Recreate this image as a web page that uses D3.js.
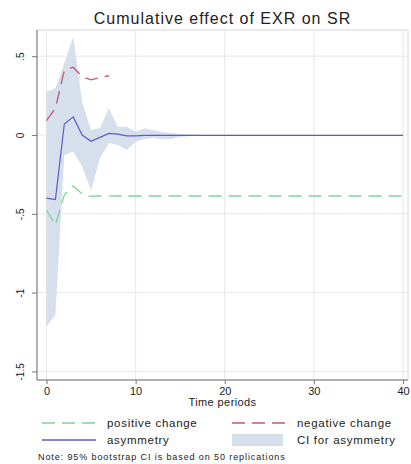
<!DOCTYPE html>
<html>
<head>
<meta charset="utf-8">
<script src="https://cdn.jsdelivr.net/npm/d3@7"></script>
<style>
  body { margin: 0; background: #fff; }
  svg text { font-family: "Liberation Sans", Arial, sans-serif; fill: #222; }
</style>
</head>
<body>
<div id="chart"></div>
<script>
// periods 0..40
var periods = d3.range(0, 41);

// cumulative multipliers
var positive = [-0.476, -0.571, -0.38, -0.324, -0.374, -0.39, -0.387, -0.386, -0.387, -0.387,
  -0.387, -0.387, -0.387, -0.387, -0.387, -0.387, -0.387, -0.387, -0.387, -0.387,
  -0.387, -0.387, -0.387, -0.387, -0.387, -0.387, -0.387, -0.387, -0.387, -0.387,
  -0.387, -0.387, -0.387, -0.387, -0.387, -0.387, -0.387, -0.387, -0.387, -0.387, -0.387];
var negative = [0.091, 0.17, 0.41, 0.43, 0.37, 0.35, 0.364, 0.376];
var asymmetry = [-0.40, -0.41, 0.07, 0.115, 0.0, -0.04, -0.015, 0.01, 0.005, -0.005,
  -0.005, -0.003, -0.002, -0.002, -0.002, -0.002, -0.002, -0.002, -0.002, -0.002,
  -0.002, -0.002, -0.002, -0.002, -0.002, -0.002, -0.002, -0.002, -0.002, -0.002,
  -0.002, -0.002, -0.002, -0.002, -0.002, -0.002, -0.002, -0.002, -0.002, -0.002, -0.002];
var ciUpper = [0.275, 0.296, 0.455, 0.624, 0.21, 0.03, 0.045, 0.17, 0.053, 0.053,
  0.02, 0.043, 0.03, 0.019, 0.013, 0.006, 0.003, 0.001, 0.0, 0.0,
  0.0, 0.0, 0.0, 0.0, 0.0, 0.0, 0.0, 0.0, 0.0, 0.0,
  0.0, 0.0, 0.0, 0.0, 0.0, 0.0, 0.0, 0.0, 0.0, 0.0, 0.0];
var ciLower = [-1.216, -1.142, -0.127, -0.106, -0.2, -0.35, -0.146, -0.05, -0.063, -0.095,
  -0.043, -0.025, -0.019, -0.027, -0.025, -0.013, -0.006, -0.003, -0.003, -0.003,
  -0.003, -0.003, -0.003, -0.003, -0.003, -0.003, -0.003, -0.003, -0.003, -0.003,
  -0.003, -0.003, -0.003, -0.003, -0.003, -0.003, -0.003, -0.003, -0.003, -0.003, -0.003];

var xTicks = [0, 10, 20, 30, 40];
var yTicks = [0.5, 0, -0.5, -1, -1.5];
var yTickLabels = [".5", "0", "-.5", "-1", "-1.5"];

var w = 411, h = 464;
var plot = {left: 37, right: 408, top: 30, bottom: 380};

var svg = d3.select("#chart").append("svg")
  .attr("width", w)
  .attr("height", h);

var x = d3.scaleLinear().domain([0, 40]).range([46.5, 403]);
var y = d3.scaleLinear().domain([0.5, -1.5]).range([56.2, 371.4]);

// title
svg.append("text")
  .attr("x", (plot.left + plot.right) / 2)
  .attr("y", 24)
  .attr("text-anchor", "middle")
  .style("font-size", "16px")
  .style("letter-spacing", "1px")
  .text("Cumulative effect of EXR on SR");

// plot frame
svg.append("rect")
  .attr("x", plot.left).attr("y", plot.top)
  .attr("width", plot.right - plot.left)
  .attr("height", plot.bottom - plot.top)
  .attr("fill", "#fff")
  .attr("stroke", "#d8d8d8");

// grid lines
svg.append("g").selectAll("line").data(xTicks).enter().append("line")
  .attr("x1", function(d){ return x(d); }).attr("x2", function(d){ return x(d); })
  .attr("y1", plot.top).attr("y2", plot.bottom)
  .attr("stroke", "#e6e6e6");
svg.append("g").selectAll("line").data(yTicks).enter().append("line")
  .attr("x1", plot.left).attr("x2", plot.right)
  .attr("y1", function(d){ return y(d); }).attr("y2", function(d){ return y(d); })
  .attr("stroke", "#e6e6e6");

// CI band
var band = d3.area()
  .x(function(d, i){ return x(periods[i]); })
  .y0(function(d, i){ return y(ciLower[i]); })
  .y1(function(d, i){ return y(ciUpper[i]); });
svg.append("path")
  .attr("d", band(periods))
  .attr("fill", "#d6dfec");

var line = d3.line()
  .x(function(d){ return x(d[0]); })
  .y(function(d){ return y(d[1]); });

function pairs(vals) {
  return vals.map(function(v, i){ return [periods[i], v]; });
}

svg.append("path")
  .attr("d", line(pairs(positive)))
  .attr("fill", "none")
  .attr("stroke", "#7fd39a")
  .attr("stroke-width", 1.3)
  .attr("stroke-dasharray", "13,7");

svg.append("path")
  .attr("d", line(pairs(negative)))
  .attr("fill", "none")
  .attr("stroke", "#c8557a")
  .attr("stroke-width", 1.3)
  .attr("stroke-dasharray", "13,7");

svg.append("path")
  .attr("d", line(pairs(asymmetry)))
  .attr("fill", "none")
  .attr("stroke", "#5b5bc8")
  .attr("stroke-width", 1.2);

// axes
var yAxis = d3.axisLeft(y).tickValues(yTicks).tickSize(5).tickFormat(function(d, i){ return yTickLabels[i]; });
var gy = svg.append("g")
  .attr("transform", "translate(" + plot.left + ",0)")
  .call(yAxis);
gy.select(".domain").attr("d", "M0," + plot.top + "V" + plot.bottom).attr("stroke", "#777");
gy.selectAll(".tick line").attr("stroke", "#777");
gy.selectAll(".tick text")
  .attr("x", 0).attr("y", 0).attr("dy", 0)
  .attr("text-anchor", "middle")
  .attr("transform", "translate(-13,0) rotate(-90)")
  .style("font-size", "10px");

var xAxis = d3.axisBottom(x).tickValues(xTicks).tickSize(4).tickFormat(d3.format("d"));
var gx = svg.append("g")
  .attr("transform", "translate(0," + plot.bottom + ")")
  .call(xAxis);
gx.select(".domain").attr("d", "M" + plot.left + ",0H" + plot.right).attr("stroke", "#777");
gx.selectAll(".tick line").attr("stroke", "#777");
gx.selectAll(".tick text").attr("y", 7).style("font-size", "11px");

svg.append("text")
  .attr("x", (plot.left + plot.right) / 2)
  .attr("y", 406)
  .attr("text-anchor", "middle")
  .style("font-size", "11px")
  .style("letter-spacing", "0.4px")
  .text("Time periods");

// legend
var legend = [
  {label: "positive change", color: "#7fd39a", dash: "13,7", x: 42, y: 423, type: "line"},
  {label: "negative change", color: "#c8557a", dash: "13,7", x: 232, y: 423, type: "line"},
  {label: "asymmetry", color: "#5b5bc8", dash: null, x: 42, y: 440, type: "line"},
  {label: "CI for asymmetry", color: "#d6dfec", dash: null, x: 232, y: 440, type: "box"}
];
var lg = svg.append("g").selectAll("g").data(legend).enter().append("g");
lg.each(function(d){
  var g = d3.select(this);
  if (d.type == "line") {
    g.append("line")
      .attr("x1", d.x).attr("x2", d.x + 54)
      .attr("y1", d.y).attr("y2", d.y)
      .attr("stroke", d.color)
      .attr("stroke-width", 1.3)
      .attr("stroke-dasharray", d.dash);
  } else {
    g.append("rect")
      .attr("x", d.x).attr("y", d.y - 6)
      .attr("width", 51).attr("height", 12)
      .attr("fill", d.color);
  }
  g.append("text")
    .attr("x", d.x + 65).attr("y", d.y + 4)
    .style("font-size", "11.5px")
    .style("letter-spacing", "0.7px")
    .text(d.label);
});

svg.append("text")
  .attr("x", 38)
  .attr("y", 460)
  .style("font-size", "9px")
  .style("letter-spacing", "0.9px")
  .text("Note: 95% bootstrap CI is based on 50 replications");
</script>
</body>
</html>
